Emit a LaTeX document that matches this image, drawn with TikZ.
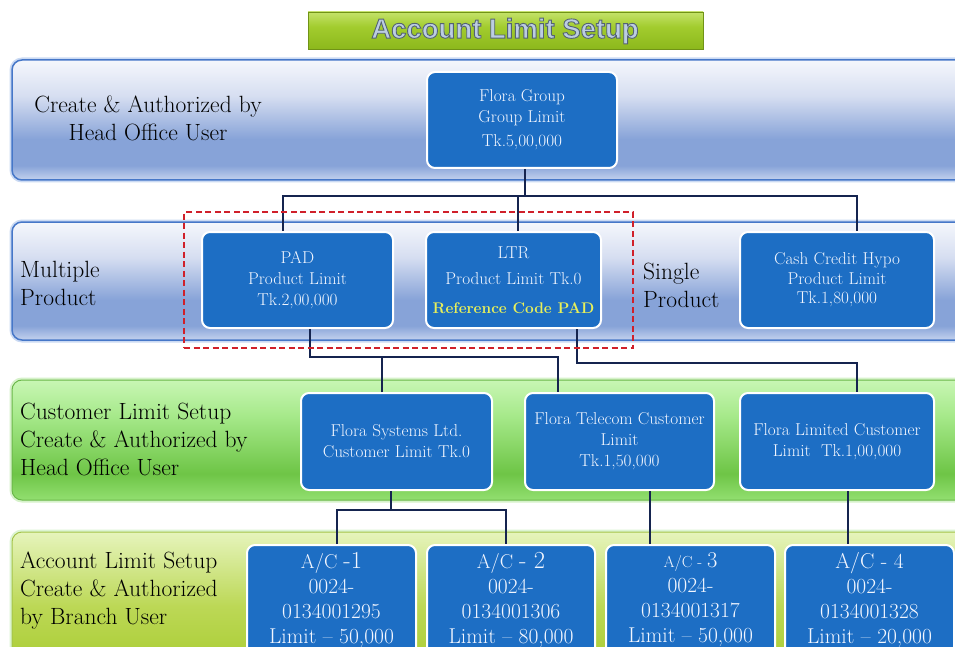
\documentclass[tikz,border=0pt]{standalone}
\usepackage{fontspec}
\newfontfamily\titlefont{Liberation Sans}

% palette
\definecolor{boxblue}{HTML}{1D6EC4}
\definecolor{boxtext}{HTML}{F2F6FF}
\definecolor{refyellow}{HTML}{E8F05A}
\definecolor{connnavy}{HTML}{15244F}
\definecolor{refred}{HTML}{D0202A}
\definecolor{blueedge}{HTML}{4677C8}
\definecolor{blueglow}{HTML}{A9C2EC}
\definecolor{greenedge}{HTML}{6BB84A}
\definecolor{greenglow}{HTML}{C6EDB4}
\definecolor{limeedge}{HTML}{A4C44A}
\definecolor{titlefill}{HTML}{BCCDE2}
\definecolor{bb1}{HTML}{C4D2EE}
\definecolor{bb2}{HTML}{87A3D8}
\definecolor{bb3}{HTML}{D6DEF1}
\definecolor{bb4}{HTML}{F5F7FC}
\definecolor{gg1}{HTML}{92DF70}
\definecolor{gg2}{HTML}{6EC546}
\definecolor{gg3}{HTML}{A6E98A}
\definecolor{gg4}{HTML}{C8F6B4}
\definecolor{yy1}{HTML}{A6CA2C}
\definecolor{yy2}{HTML}{BCD856}
\definecolor{yy3}{HTML}{E6F4BC}
\definecolor{tt1}{HTML}{8CB81C}
\definecolor{tt2}{HTML}{A2CC2E}
\definecolor{tt3}{HTML}{C4E26A}

% outlined lettering: fill + stroke text render mode
\newcommand\outlinedtext[1]{\special{pdf:literal direct 2 Tr 0.9 w 0.33 0.39 0.45 RG}#1\special{pdf:literal direct 0 Tr}}

% vertical fills of the four lanes and the title bar (visible range 25bp..75bp)
\pgfdeclareverticalshading{laneblue}{100bp}{color(0bp)=(bb1); color(25bp)=(bb1); color(31bp)=(bb2); color(42bp)=(bb2); color(60bp)=(bb3); color(75bp)=(bb4); color(100bp)=(bb4)}
\pgfdeclareverticalshading{lanegreen}{100bp}{color(0bp)=(gg1); color(25bp)=(gg1); color(36bp)=(gg2); color(60bp)=(gg3); color(75bp)=(gg4); color(100bp)=(gg4)}
\pgfdeclareverticalshading{lanelime}{100bp}{color(0bp)=(yy1); color(25bp)=(yy1); color(50bp)=(yy2); color(75bp)=(yy3); color(100bp)=(yy3)}
\pgfdeclareverticalshading{titlebar}{100bp}{color(0bp)=(tt1); color(25bp)=(tt1); color(55bp)=(tt2); color(75bp)=(tt3); color(100bp)=(tt3)}

\tikzset{
  box/.style={draw=white, line width=2pt, fill=boxblue, rounded corners=8pt,
    text=boxtext, align=center, inner sep=0pt,
    font=\fontsize{17.2}{21}\selectfont},
  acbox/.style={box, minimum height=110pt, font=\fontsize{21.5}{25}\selectfont},
  lanetext/.style={font=\fontsize{23.5}{28}\selectfont, align=left, anchor=west,
    inner sep=0pt, text=black},
  conn/.style={draw=connnavy, line width=2.4pt},
  laneshape/.style={rounded corners=10pt},
}

\begin{document}
\begin{tikzpicture}[x=1pt,y=-1pt]
\useasboundingbox (0,0) rectangle (955,647);
\clip (0,0) rectangle (955,647);
\fill[white] (0,0) rectangle (955,647);

% ---- lanes ----
\draw[laneshape, blueglow, line width=5pt, opacity=0.6] (12,60) rectangle (985,180);
\shade[laneshape, shading=laneblue] (12,60) rectangle (985,180);
\draw[laneshape, blueedge, line width=1.5pt] (12,60) rectangle (985,180);

\draw[laneshape, blueglow, line width=5pt, opacity=0.6] (12,222) rectangle (985,340);
\shade[laneshape, shading=laneblue] (12,222) rectangle (985,340);
\draw[laneshape, blueedge, line width=1.5pt] (12,222) rectangle (985,340);

\draw[laneshape, greenglow, line width=5pt, opacity=0.7] (12,380) rectangle (985,500);
\shade[laneshape, shading=lanegreen] (12,380) rectangle (985,500);
\draw[laneshape, greenedge, line width=1pt] (12,380) rectangle (985,500);

\draw[laneshape, greenglow, line width=5pt, opacity=0.6] (12,532) rectangle (985,680);
\shade[laneshape, shading=lanelime] (12,532) rectangle (985,680);
\draw[laneshape, limeedge, line width=1pt] (12,532) rectangle (985,680);

% ---- title bar ----
\shade[shading=titlebar] (308,12) rectangle (703,49);
\draw[tt1!80!black, line width=0.6pt] (308,12) rectangle (703,49);
\node[inner sep=0pt, text=titlefill, font=\titlefont\bfseries\fontsize{27.5}{30}\selectfont] (title) at (505,31)
  {\outlinedtext{Account Limit Setup}};

% ---- lane captions ----
\node[lanetext, align=center, anchor=center] (cap1) at (148,118)
  {Create \& Authorized by\\Head Office User};
\node[lanetext] (cap2) at (20,283) {Multiple\\Product};
\node[lanetext] (cap2b) at (643,285) {Single\\Product};
\node[lanetext] (cap3) at (20,439) {Customer Limit Setup\\Create \& Authorized by\\Head Office User};
\node[lanetext] (cap4) at (20,591) {Account Limit Setup\\Create \& Authorized\\by Branch User};

% ---- group level ----
\node[box, minimum width=190pt, minimum height=96pt] (grp) at (522,120)
  {Flora Group\\Group Limit\\[3pt]Tk.5,00,000};

% ---- product level ----
\node[box, minimum width=191pt, minimum height=96pt] (pad) at (297.5,280)
  {PAD\\Product Limit\\Tk.2,00,000};
\node[box, minimum width=175pt, minimum height=96pt] (ltr) at (513.5,280)
  {LTR\\[5pt]Product Limit Tk.0\\[8pt]{\color{refyellow}\bfseries\fontsize{15.4}{21}\selectfont Reference Code PAD}};
\node[box, minimum width=194pt, minimum height=96pt] (cch) at (837,280)
  {Cash Credit Hypo\\[-1.5pt]Product Limit\\[-1.5pt]Tk.1,80,000};

% ---- customer level ----
\node[box, minimum width=191pt, minimum height=97pt] (fsys) at (396.5,441.5)
  {Flora Systems Ltd.\\Customer Limit Tk.0};
\node[box, minimum width=189pt, minimum height=97pt] (ftel) at (619.5,441.5)
  {Flora Telecom Customer\\Limit\\Tk.1,50,000};
\node[box, minimum width=194pt, minimum height=97pt] (flim) at (837,441.5)
  {Flora Limited Customer\\Limit~~Tk.1,00,000};

% ---- account level ----
\node[acbox, minimum width=169pt] (ac1) at (331.5,600)
  {{\fontsize{20}{25}\selectfont A/C }{\fontsize{24.5}{25}\selectfont -1}\\0024-\\0134001295\\Limit \textendash{} 50,000};
\node[acbox, minimum width=168pt] (ac2) at (511,600)
  {{\fontsize{20}{25}\selectfont A/C }{\fontsize{24.5}{25}\selectfont - 2}\\0024-\\0134001306\\Limit \textendash{} 80,000};
\node[acbox, minimum width=169pt] (ac3) at (690.5,600)
  {{\fontsize{16}{25}\selectfont A/C - }{\fontsize{22.5}{25}\selectfont 3}\\0024-\\0134001317\\Limit \textendash{} 50,000};
\node[acbox, minimum width=169pt] (ac4) at (869.5,600)
  {{\fontsize{21.5}{25}\selectfont A/C - 4}\\0024-\\0134001328\\Limit \textendash{} 20,000};

% ---- connectors ----
\coordinate (bus1) at (0,196);
\coordinate (bus2) at (0,357);
\coordinate (bus3) at (0,363);
\coordinate (bus4) at (0,510);

\draw[conn] ([xshift=3pt]grp.south) -- ([xshift=3pt]grp.south |- bus1);
\draw[conn] ([xshift=-14.5pt]pad.north) |- ([xshift=20pt]cch.north |- bus1) -- ([xshift=20pt]cch.north);
\draw[conn] ([xshift=4.5pt]ltr.north) -- ([xshift=4.5pt]ltr.north |- bus1);

\draw[conn] ([xshift=12.5pt]pad.south) |- ([xshift=-61.5pt]ftel.north |- bus2) -- ([xshift=-61.5pt]ftel.north);
\draw[conn] ([xshift=-14.5pt]fsys.north) -- ([xshift=-14.5pt]fsys.north |- bus2);
\draw[conn] ([xshift=63.5pt]ltr.south) |- ([xshift=20pt]flim.north |- bus3) -- ([xshift=20pt]flim.north);

\draw[conn] ([xshift=5.5pt]ac1.north) |- ([xshift=-5pt]ac2.north |- bus4) -- ([xshift=-5pt]ac2.north);
\draw[conn] ([xshift=-5.5pt]fsys.south) -- ([xshift=-5.5pt]fsys.south |- bus4);
\draw[conn] ([xshift=30.5pt]ftel.south) -- ([xshift=30.5pt]ftel.south |- ac3.north);
\draw[conn] ([xshift=11pt]flim.south) -- ([xshift=11pt]flim.south |- ac4.north);

% ---- multiple-product frame ----
\node[draw=refred, line width=2pt, dash pattern=on 6pt off 3.5pt,
  minimum width=449pt, minimum height=136pt, inner sep=0pt] (multi) at (408.5,280) {};
\end{tikzpicture}
\end{document}
